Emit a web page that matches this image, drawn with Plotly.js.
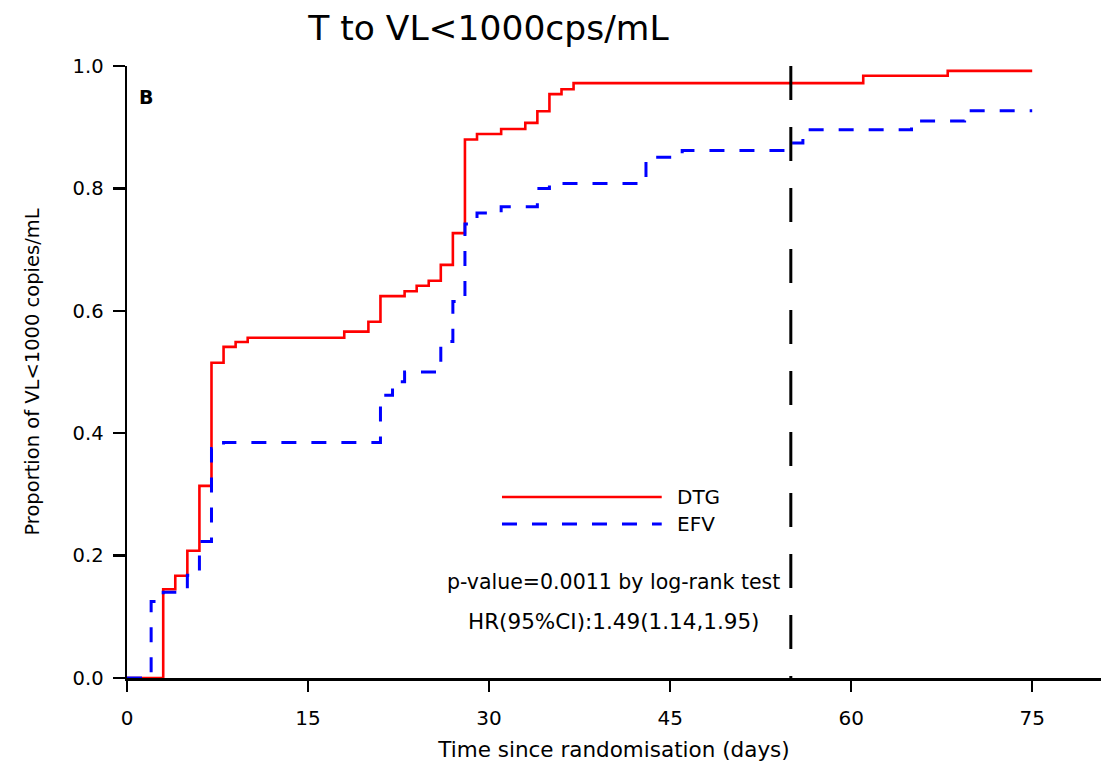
<!DOCTYPE html>
<html>
<head>
<meta charset="utf-8">
<script src="https://cdn.plot.ly/plotly-3.0.1.min.js"></script>
<style>html,body{margin:0;padding:0;background:#fff;}#chart{width:1110px;height:768px;}</style>
</head>
<body>
<div id="chart"></div>
<script>
// Kaplan-Meier style cumulative proportions
const dtgDays = [0, 3, 4, 5, 6, 7, 8, 9, 10, 18, 20, 21, 23, 24, 25, 26, 27, 28, 29, 31, 33, 34, 35, 36, 37, 61, 68, 75];
const dtgProp = [0, 0.145, 0.167, 0.208, 0.314, 0.515, 0.541, 0.549, 0.556, 0.566, 0.582, 0.624, 0.632, 0.641, 0.649, 0.675, 0.727, 0.880, 0.889, 0.897, 0.907, 0.926, 0.954, 0.962, 0.972, 0.984, 0.992, 0.992];
const efvDays = [0, 2, 3, 5, 6, 7, 8, 21, 22, 23, 26, 27, 28, 29, 31, 34, 35, 43, 46, 54.7, 56, 65, 69.4, 75];
const efvProp = [0, 0.125, 0.140, 0.168, 0.223, 0.375, 0.385, 0.462, 0.484, 0.500, 0.550, 0.615, 0.742, 0.760, 0.770, 0.800, 0.808, 0.851, 0.862, 0.874, 0.896, 0.910, 0.927, 0.927];
const seriesNames = ["DTG", "EFV"];
const xTicks = [0, 15, 30, 45, 60, 75];
const yTicks = [0, 0.2, 0.4, 0.6, 0.8, 1.0];
const yTickText = ["0.0", "0.2", "0.4", "0.6", "0.8", "1.0"];
const cutoffDay = 55;
const pText = "p-value=0.0011 by log-rank test";
const hrText = "HR(95%CI):1.49(1.14,1.95)";

const FONT = "DejaVu Sans, Verdana, sans-serif";

const traces = [
  {x: dtgDays, y: dtgProp, name: seriesNames[0], type: "scatter", mode: "lines",
   line: {shape: "hv", color: "#ff0000", width: 2.6}, showlegend: false},
  {x: efvDays, y: efvProp, name: seriesNames[1], type: "scatter", mode: "lines",
   line: {shape: "hv", color: "#0000ff", width: 3, dash: "15px,15px"}, showlegend: false}
];

const layout = {
  width: 1110, height: 768,
  paper_bgcolor: "#fff", plot_bgcolor: "#fff",
  margin: {l: 127, r: 9, t: 66, b: 90},
  font: {family: FONT, color: "#000"},
  title: {text: "T to VL<1000cps/mL", font: {family: FONT, size: 34.5, color: "#000"},
          xref: "container", x: 0.44, xanchor: "center", yref: "container", y: 0.963, yanchor: "middle"},
  xaxis: {range: [0, 80.7], tickvals: xTicks, ticktext: xTicks.map(String),
          showgrid: false, zeroline: false, showline: true, linecolor: "#000", linewidth: 2.5,
          ticks: "outside", ticklen: 11, tickwidth: 2.5, tickcolor: "#000",
          tickfont: {family: FONT, size: 20, color: "#000"}, ticklabelstandoff: 9,
          layer: "below traces",
          title: {text: "Time since randomisation (days)", font: {family: FONT, size: 21.5, color: "#000"}, standoff: 14}},
  yaxis: {range: [0, 1.0], tickvals: yTicks, ticktext: yTickText,
          showgrid: false, zeroline: false, showline: true, linecolor: "#000", linewidth: 2.5,
          ticks: "outside", ticklen: 12, tickwidth: 2.5, tickcolor: "#000",
          tickfont: {family: FONT, size: 19.5, color: "#000"}, ticklabelstandoff: 5,
          layer: "below traces",
          title: {text: "Proportion of VL<1000 copies/mL", font: {family: FONT, size: 19.5, color: "#000"}, standoff: 28}},
  shapes: [
    {type: "line", xref: "x", yref: "paper", x0: cutoffDay, x1: cutoffDay, y0: 1, y1: 0,
     line: {color: "#000", width: 3, dash: "34px,27px"}},
    {type: "line", xref: "paper", yref: "paper", x0: 0.385, x1: 0.549, y0: 0.2958, y1: 0.2958,
     line: {color: "#ff0000", width: 2.6}},
    {type: "line", xref: "paper", yref: "paper", x0: 0.385, x1: 0.549, y0: 0.2516, y1: 0.2516,
     line: {color: "#0000ff", width: 3, dash: "15px,15px"}}
  ],
  annotations: [
    {xref: "paper", yref: "paper", x: 0.5626, y: 0.2958, xanchor: "left", yanchor: "middle",
     text: seriesNames[0], showarrow: false, font: {family: FONT, size: 20, color: "#000"}},
    {xref: "paper", yref: "paper", x: 0.5626, y: 0.2516, xanchor: "left", yanchor: "middle",
     text: seriesNames[1], showarrow: false, font: {family: FONT, size: 20, color: "#000"}},
    {xref: "paper", yref: "paper", x: 0.4995, y: 0.157, xanchor: "center", yanchor: "middle",
     text: pText, showarrow: false, font: {family: FONT, size: 20.5, color: "#000"}},
    {xref: "paper", yref: "paper", x: 0.4995, y: 0.093, xanchor: "center", yanchor: "middle",
     text: hrText, showarrow: false, font: {family: FONT, size: 21.5, color: "#000"}},
    {xref: "paper", yref: "paper", x: 0.0103, y: 0.949, xanchor: "left", yanchor: "middle",
     text: "<b>B</b>", showarrow: false, font: {family: FONT, size: 19, color: "#000"}}
  ]
};

Plotly.newPlot("chart", traces, layout, {displayModeBar: false, staticPlot: true});
</script>
</body>
</html>
